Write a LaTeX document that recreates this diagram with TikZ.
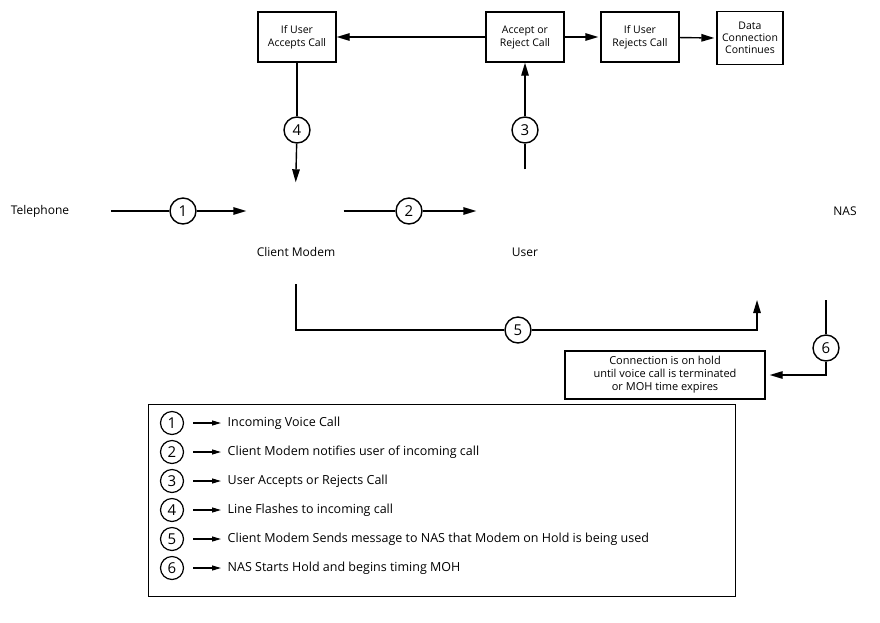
\documentclass[tikz,border=0pt]{standalone}
\usepackage{fontspec}
\setmainfont{Open Sans}
\usetikzlibrary{arrows.meta,positioning}

\begin{document}
\begin{tikzpicture}[
	x = 1pt, y = -1pt, % one unit per pixel, y runs downwards
	> = {Triangle[length=13pt,width=7.5pt]}, % arrow head style
	line width = 1.4pt,
	font = \fontsize{10.5}{13}\selectfont,
	box/.style={rectangle, draw=black, align=center, minimum width=78pt, minimum height=50pt, inner sep=2pt},
	num/.style={circle, draw=black, minimum size=26pt, inner sep=0pt, font=\fontsize{15}{15}\selectfont},
	keynum/.style={num, minimum size=23pt, line width=1.2pt},
	dev/.style={inner sep=0pt, minimum width=96pt, minimum height=56pt}, % room for the device pictures
	lbl/.style={inner sep=1pt, font=\fontsize{12}{13}\selectfont},
	]
	\useasboundingbox (0,0) rectangle (880,622);

	% Nodes and their positions
	% decision row
	\node[box] (acc)  at (297,37) {If User\\Accepts Call};
	\node[box] (dec)  at (525,37) {Accept or\\Reject Call};
	\node[box] (rej)  at (640,37) {If User\\Rejects Call};
	\node[box, minimum width=66pt, minimum height=53pt, inner sep=1pt, font=\fontsize{10.5}{12}\selectfont] (data) at (750,38) {Data\\Connection\\Continues};

	% devices
	\node[lbl] (tel) at (40,211) {Telephone};
	\node[dev] (modem) at (295,211) {};
	\node[lbl] (modemlbl) at (296,252) {Client Modem};
	\node[dev, minimum height=82pt] (user) at (525,211) {};
	\node[lbl] (userlbl) at (525,252) {User};
	\node[lbl] (nas) at (845,211) {NAS};
	\coordinate (modemport) at (296,284);
	\coordinate (nasin)     at (757,300);
	\coordinate (nasout)    at (826,300);

	% numbered steps
	\node[num] (n1) at (183,211) {1};
	\node[num] (n2) at (409,211) {2};
	\node[num] (n3) at (525,130) {3};
	\node[num] (n4) at (297,130) {4};
	\node[num] (n5) at (518,330) {5};
	\node[num] (n6) at (826,348) {6};

	\node[box, minimum width=200pt, minimum height=48pt, inner sep=1pt, font=\fontsize{11}{13}\selectfont] (hold) at (665,375)
		{Connection is on hold\\until voice call is terminated\\or MOH time expires};

	% Paths connecting nodes
	\draw[->] (dec) -- (acc);
	\draw[->] (dec) -- ([xshift=-2pt]rej.west);
	\draw[->] (rej) -- ([xshift=-2pt]data.west);

	\draw ([xshift=40pt]tel.east) -- (n1);
	\draw[->] (n1) -- (modem);
	\draw (modem) -- (n2);
	\draw[->] (n2) -- (user);
	\draw (user) -- (n3);
	\draw[->] (n3) -- (dec);
	\draw (acc) -- (n4);
	\draw[->] (n4) -- (modem);
	\draw (modemport) |- (n5);
	\draw[->] (n5) -| (nasin);
	\draw (nasout) -- (n6);
	\draw[->, shorten >=4pt] (n6) |- (hold);

	% key
	\node[draw, anchor=north west, minimum width=587pt, minimum height=192pt, inner sep=0pt] (key) at (148,404) {};
	\foreach \n/\txt [count=\i from 0] in {
		1/Incoming Voice Call,
		2/Client Modem notifies user of incoming call,
		3/User Accepts or Rejects Call,
		4/Line Flashes to incoming call,
		5/Client Modem Sends message to NAS that Modem on Hold is being used,
		6/NAS Starts Hold and begins timing MOH} {
		\node[keynum] (k\n) at (172, 423+29*\i) {\n};
		\node[lbl, anchor=west, font=\fontsize{12.5}{13}\selectfont] (t\n) at (226, 423+29*\i) {\txt};
		\draw[->, line width=1.1pt, >={Triangle[length=9pt,width=5pt]}] ([xshift=9pt]k\n.east) -- ([xshift=-5pt]t\n.west);
	}

\end{tikzpicture}
\end{document}
